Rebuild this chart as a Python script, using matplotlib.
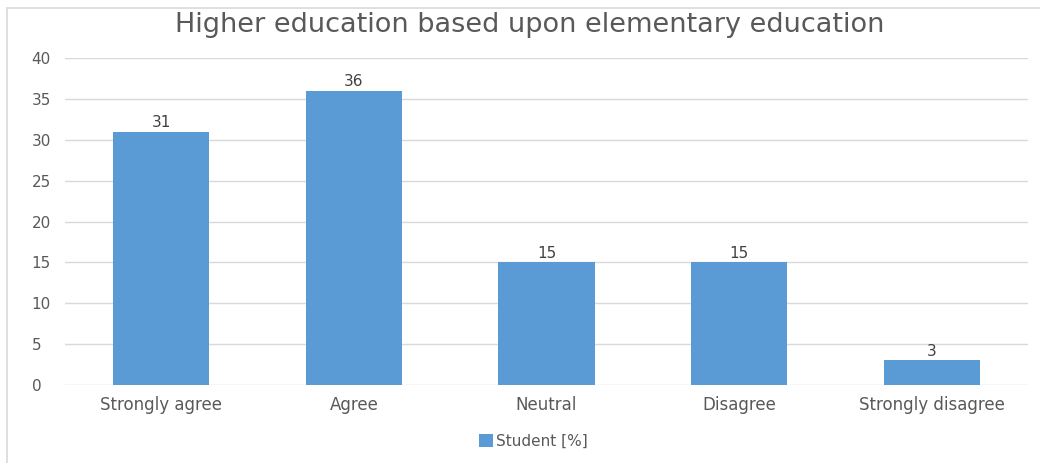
import matplotlib
matplotlib.use("Agg")
import matplotlib.pyplot as plt
from matplotlib.patches import Rectangle

categories = ["Strongly agree", "Agree", "Neutral", "Disagree", "Strongly disagree"]
values = [31, 36, 15, 15, 3]
series_name = "Student [%]"
title = "Higher education based upon elementary education"
yticks = [0, 5, 10, 15, 20, 25, 30, 35, 40]

plt.rcParams['font.family'] = ['DejaVu Sans']
W, H = 1040, 463
fig = plt.figure(figsize=(W/100, H/100), dpi=100)

# outer chart border
fig.patches.append(Rectangle((7/W, -0.1), 1.2, 1 - 8/H + 0.1, transform=fig.transFigure,
                             fill=False, edgecolor="#D9D9D9", linewidth=1.2))

ax = fig.add_axes([65/W, 1 - 385/H, (1028-65)/W, (385-58)/H])
x = list(range(len(categories)))
bars = ax.bar(x, values, width=0.5, color="#5B9BD5", zorder=3, label=series_name)
ax.set_xlim(-0.5, len(categories) - 0.5)
ax.set_ylim(0, 40)
ax.set_yticks(yticks)
ax.set_xticks(x)
ax.set_xticklabels(categories)
ax.grid(axis="y", color="#D9D9D9", linewidth=1, zorder=0)
for s in ax.spines.values():
    s.set_visible(False)
ax.tick_params(length=0, colors="#595959", labelsize=12)
ax.tick_params(axis="y", labelsize=11)
ax.tick_params(axis="x", pad=8)
ax.tick_params(axis="y", pad=24)
for lbl in ax.get_yticklabels():
    lbl.set_horizontalalignment("left")
for b, v in zip(bars, values):
    ax.annotate(str(v), (b.get_x() + b.get_width()/2, v), xytext=(0, 1),
                textcoords="offset points", ha="center", va="bottom",
                color="#404040", fontsize=11)

fig.text(0.509, 1 - 25/H, title, ha="center", va="center", fontsize=19.5, color="#595959")
fig.legend(handles=[bars], labels=[series_name], loc="center", bbox_to_anchor=(0.513, 1 - 441/H),
           frameon=False, fontsize=11, handlelength=0.9, handleheight=0.9, handletextpad=0.2,
           labelcolor="#595959")

fig.savefig("out.png", dpi=100)
